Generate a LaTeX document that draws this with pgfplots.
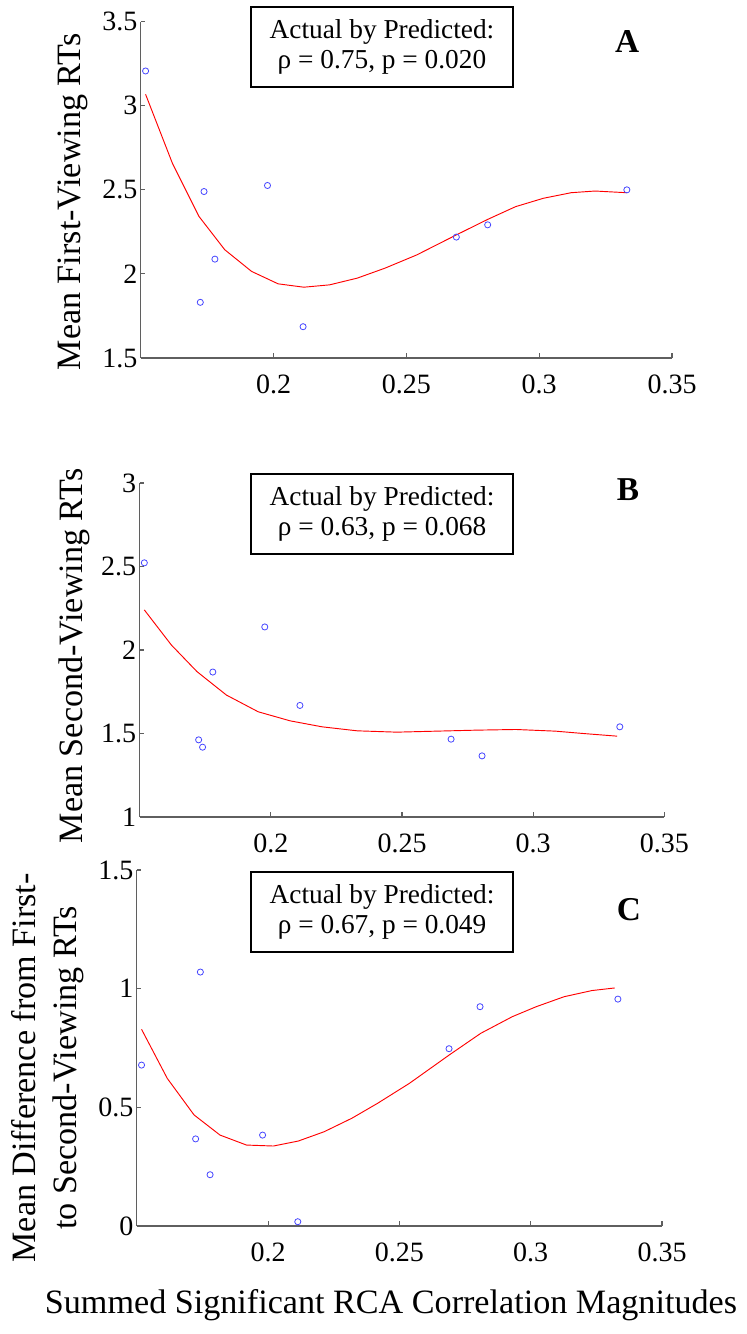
\documentclass[border=0pt]{standalone}
\usepackage{fontspec}
\setmainfont{Liberation Serif}
\usepackage{pgfplots}
\pgfplotsset{compat=1.18}

\definecolor{ptblue}{RGB}{70,70,255}
\definecolor{axgray}{RGB}{95,95,95}

\pgfplotsset{
  rcapanel/.style={
    scale only axis,
    anchor=south west,
    clip=false,
    xmin=0.15, xmax=0.35,
    xtick={0.2,0.25,0.3,0.35},
    xticklabels={0.2,0.25,0.3,0.35},
    axis x line*=bottom, axis y line*=left,
    axis line style={draw=axgray, line width=0.8pt},
    major tick style={draw=axgray, line width=0.8pt},
    tick align=inside, major tick length=3.5pt,
    tick label style={font=\fontsize{21}{24}\selectfont},
    /pgf/number format/assume math mode=true,
    xticklabel style={yshift=-9.5pt},
    yticklabel style={xshift=1pt},
    label style={font=\fontsize{25.6}{30.75}\selectfont},
  },
  pts/.style={only marks, mark=o, mark size=2.3pt, draw=ptblue, mark options={line width=0.6pt}},
  fit/.style={red, line width=0.7pt, no marks},
}
\tikzset{
  statbox/.style={draw=black, line width=1.2pt, minimum width=196.5pt, minimum height=60pt,
    align=center, inner sep=0pt, font=\fontsize{20.5}{22.5}\selectfont},
  panel/.style={font=\fontsize{25}{27}\bfseries},
}

\begin{document}
\begin{tikzpicture}
\path[use as bounding box] (0,0) rectangle (559.5pt,1000.5pt);

% ---------- A ----------
\begin{axis}[rcapanel,
  at={(105.6pt,732pt)}, width=398.4pt, height=252.2pt,
  ymin=1.5, ymax=3.5, ytick={1.5,2,2.5,3,3.5},
  ylabel={Mean First-Viewing RTs},
  ylabel style={at={(axis description cs:-0.1276,0.464)}, anchor=center},
]
\addplot[pts] coordinates {
  (0.1518,3.207) (0.1724,1.831) (0.1738,2.490) (0.1779,2.088) (0.1977,2.526)
  (0.2111,1.686) (0.2688,2.219) (0.2806,2.292) (0.3330,2.500)};
\addplot[fit] coordinates {
  (0.1518,3.068) (0.1619,2.658) (0.1719,2.342) (0.1816,2.144) (0.1917,2.015)
  (0.2017,1.941) (0.2114,1.921) (0.2211,1.935) (0.2315,1.975) (0.2419,2.034)
  (0.2539,2.113) (0.2688,2.232) (0.2807,2.325) (0.2911,2.400) (0.3016,2.450)
  (0.3120,2.483) (0.3210,2.493) (0.3329,2.483)};
\node[statbox] at (axis cs:0.2408,3.35) {Actual by Predicted:\\ρ = 0.75, p = 0.020};
\node[panel] at (axis cs:0.3331,3.385) {A};
\end{axis}

% ---------- B ----------
\begin{axis}[rcapanel,
  at={(104.7pt,387.75pt)}, width=393.6pt, height=250.5pt,
  ymin=1, ymax=3, ytick={1,1.5,2,2.5,3},
  ylabel={Mean Second-Viewing RTs},
  ylabel style={at={(axis description cs:-0.125,0.482)}, anchor=center},
]
\addplot[pts] coordinates {
  (0.1518,2.522) (0.1725,1.462) (0.1740,1.418) (0.1779,1.868) (0.1977,2.138)
  (0.2111,1.668) (0.2687,1.466) (0.2805,1.366) (0.3330,1.540)};
\addplot[fit] coordinates {
  (0.1518,2.240) (0.1621,2.030) (0.1719,1.870) (0.1831,1.730) (0.1952,1.630)
  (0.2073,1.576) (0.2195,1.540) (0.2329,1.516) (0.2480,1.508) (0.2631,1.514)
  (0.2783,1.520) (0.2934,1.524) (0.3085,1.514) (0.3190,1.500) (0.3320,1.484)};
\node[statbox] at (axis cs:0.2424,2.814) {Actual by Predicted:\\ρ = 0.63, p = 0.068};
\node[panel] at (axis cs:0.3361,2.958) {B};
\end{axis}

% ---------- C ----------
\begin{axis}[rcapanel,
  at={(102.6pt,81pt)}, width=393.9pt, height=267pt,
  ymin=0, ymax=1.5, ytick={0,0.5,1,1.5},
  ylabel={Mean Difference from First-\\to Second-Viewing RTs},
  ylabel style={at={(axis description cs:-0.169,0.444)}, anchor=center, align=center},
  xlabel={Summed Significant RCA Correlation Magnitudes},
  xlabel style={at={(axis description cs:0.484,0)}, anchor=base, yshift=-65.25pt},
]
\addplot[pts] coordinates {
  (0.1518,0.678) (0.1724,0.367) (0.1742,1.070) (0.1779,0.216) (0.1979,0.383)
  (0.2113,0.018) (0.2689,0.747) (0.2807,0.924) (0.3332,0.956)};
\addplot[fit] coordinates {
  (0.1518,0.829) (0.1616,0.622) (0.1718,0.468) (0.1817,0.383) (0.1918,0.341)
  (0.2020,0.337) (0.2115,0.358) (0.2213,0.397) (0.2319,0.454) (0.2417,0.517)
  (0.2538,0.601) (0.2689,0.720) (0.2810,0.812) (0.2930,0.882) (0.3021,0.924)
  (0.3127,0.966) (0.3233,0.992) (0.3320,1.003)};
\node[statbox] at (axis cs:0.2434,1.323) {Actual by Predicted:\\ρ = 0.67, p = 0.049};
\node[panel] at (axis cs:0.3374,1.331) {C};
\end{axis}
\end{tikzpicture}
\end{document}
